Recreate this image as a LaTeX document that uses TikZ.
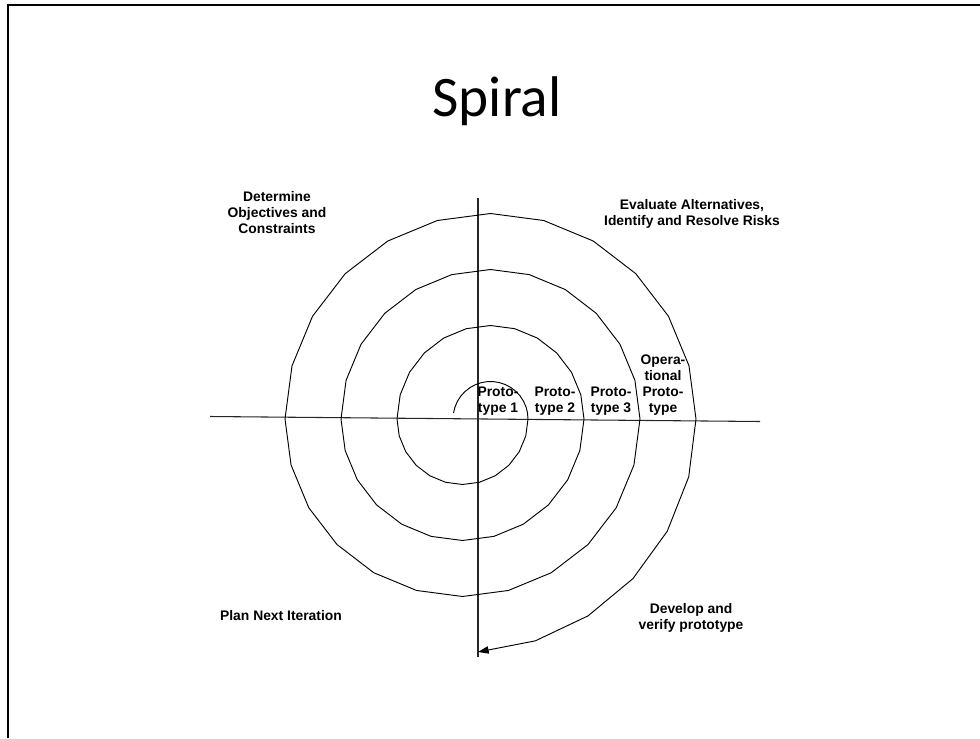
\documentclass[tikz,border=0pt]{standalone}
\usepackage{fontspec}
\setmainfont{Liberation Sans}
\newfontfamily\slidefont{Carlito}
\usetikzlibrary{arrows.meta}

\begin{document}
\begin{tikzpicture}[
  x=0.75pt, y=-0.75pt,
  %% ── line styles ──────────────────────────────────────────────────────────
  frm/.style = {line width=1.3pt, color=black},
  ax/.style  = {line width=0.8pt, color=black!85},
  sp/.style  = {line width=0.7pt, color=black},
  %% ── text styles ──────────────────────────────────────────────────────────
  ttl/.style = {font=\slidefont\fontsize{43}{50}\selectfont,
                inner sep=0pt, anchor=base},
  lbl/.style = {font=\fontsize{10.4}{12}\selectfont\bfseries,
                align=center, inner sep=0pt, anchor=base},
]
\useasboundingbox (0,0) rectangle (980,738);

%% ── slide frame and title ─────────────────────────────────────────────────
\draw[frm] (8,738) -- (8,5) -- (980,5);
\node[ttl] (title) at (497,117) {Spiral};

%% ── axes ──────────────────────────────────────────────────────────────────
\draw[ax] (210,416.5) -- (760,421.5);
\draw[ax] (478,198) -- (478,657);

%% ── spiral: half turns, upper centre 490.5, lower centre 462.5 ────────────
\draw[sp, -{Triangle[length=8pt, width=5.5pt]}]
  plot[domain=171:0,   samples=19] ({490.5+37.5*cos(\x)},  {419-37.5*sin(\x)})
  -- plot[domain=0:-180,  samples=13] ({462.5+65.5*cos(\x)},  {419-65.5*sin(\x)})
  -- plot[domain=180:0,   samples=13] ({490.5+93.5*cos(\x)},  {419-93.5*sin(\x)})
  -- plot[domain=0:-180,  samples=13] ({462.5+121.5*cos(\x)}, {419-121.5*sin(\x)})
  -- plot[domain=180:0,   samples=13] ({490.5+149.5*cos(\x)}, {419-149.5*sin(\x)})
  -- plot[domain=0:-180,  samples=13] ({462.5+177.5*cos(\x)}, {419-177.5*sin(\x)})
  -- plot[domain=180:0,   samples=13] ({490.5+205.5*cos(\x)}, {419-205.5*sin(\x)})
  -- plot[domain=0:-86.2, samples=7]  ({462.5+233.5*cos(\x)}, {419-233.5*sin(\x)});

%% ── quadrant labels (base = last line) ────────────────────────────────────
\node[lbl] (obj)  at (277,233) {Determine\\Objectives and\\Constraints};
\node[lbl] (risk) at (692,225) {Evaluate Alternatives,\\Identify and Resolve Risks};
\node[lbl] (plan) at (281,620) {Plan Next Iteration};
\node[lbl] (dev)  at (691,629) {Develop and\\verify prototype};

%% ── prototype labels along the axis ───────────────────────────────────────
\node[lbl] (p1)  at (498,412) {Proto-\\type 1};
\node[lbl] (p2)  at (555,412) {Proto-\\type 2};
\node[lbl] (p3)  at (611,412) {Proto-\\type 3};
\node[lbl] (pop) at (663,412) {Opera-\\tional\\Proto-\\type};

\end{tikzpicture}
\end{document}
